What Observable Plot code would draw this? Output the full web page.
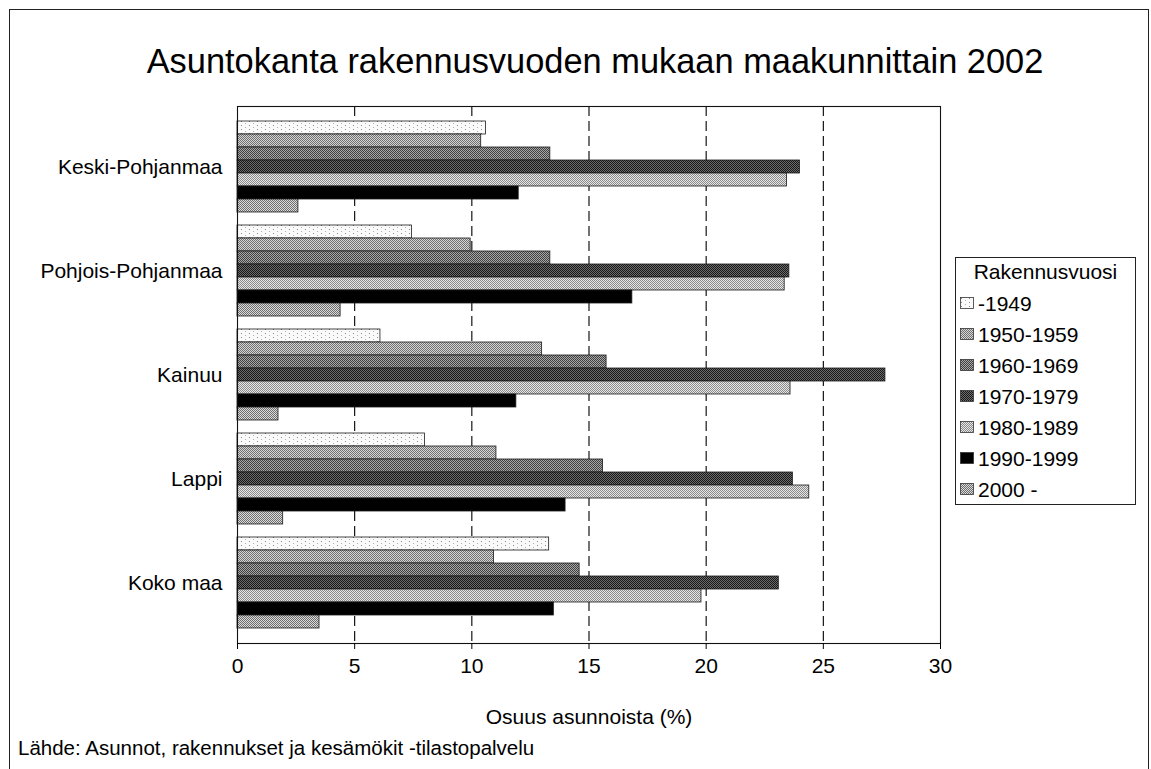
<!DOCTYPE html>
<html>
<head>
<meta charset="utf-8">
<script src="https://cdn.jsdelivr.net/npm/d3@7"></script>
<script src="https://cdn.jsdelivr.net/npm/@observablehq/plot@0.6"></script>
<style>
  html, body { margin: 0; padding: 0; background: #fff; }
  body { font-family: "Liberation Sans", Arial, sans-serif; color: #000; }
  #wrap { position: relative; width: 1151px; height: 769px; overflow: hidden; background: #fff; }
  #border { position: absolute; left: 9px; top: 9px; width: 1140px; height: 780px; border: 1.2px solid #222; box-sizing: border-box; }
  #title { position: absolute; left: 0; top: 41px; width: 1190px; text-align: center; font-size: 34.4px; line-height: 40px; }
  #chart { position: absolute; left: 0; top: 0; }
  #caption { position: absolute; left: 18px; top: 736px; font-size: 20.5px; line-height: 24px; }
  #legend { position: absolute; left: 955px; top: 257px; width: 181px; height: 248px; border: 1px solid #222; box-sizing: border-box; background: #fff; }
  #legend .lt { text-align: center; font-size: 21px; line-height: 24px; margin-top: 2px; margin-bottom: 4px; }
  #legend .it { display: flex; align-items: center; height: 31px; font-size: 21px; padding-left: 4px; }
  #legend .it svg { margin-right: 3px; }
</style>
</head>
<body>
<svg width="0" height="0" style="position:absolute">
  <defs>
    <pattern id="pat0" width="8" height="4" patternUnits="userSpaceOnUse">
      <rect width="8" height="4" fill="#fafafa"/>
      <rect x="1" y="1" width="1" height="1" fill="#8a8a8a"/>
      <rect x="5" y="3" width="1" height="1" fill="#b0b0b0"/>
    </pattern>
    <pattern id="pat1" width="2" height="2" patternUnits="userSpaceOnUse">
      <rect width="2" height="2" fill="#d6d6d6"/>
      <rect width="1" height="1" fill="#707070"/>
      <rect x="1" y="1" width="1" height="1" fill="#707070"/>
    </pattern>
    <pattern id="pat2" width="2" height="2" patternUnits="userSpaceOnUse">
      <rect width="2" height="2" fill="#a8a8a8"/>
      <rect width="1" height="1" fill="#404040"/>
      <rect x="1" y="1" width="1" height="1" fill="#404040"/>
    </pattern>
    <pattern id="pat3" width="2" height="2" patternUnits="userSpaceOnUse">
      <rect width="2" height="2" fill="#6c6c6c"/>
      <rect width="1" height="1" fill="#181818"/>
      <rect x="1" y="1" width="1" height="1" fill="#181818"/>
    </pattern>
    <pattern id="pat4" width="2" height="2" patternUnits="userSpaceOnUse">
      <rect width="2" height="2" fill="#e6e6e6"/>
      <rect width="1" height="1" fill="#8a8a8a"/>
      <rect x="1" y="1" width="1" height="1" fill="#8a8a8a"/>
    </pattern>
    <pattern id="pat5" width="2" height="2" patternUnits="userSpaceOnUse">
      <rect width="2" height="2" fill="#000"/>
    </pattern>
    <pattern id="pat6" width="2" height="2" patternUnits="userSpaceOnUse">
      <rect width="2" height="2" fill="#dadada"/>
      <rect width="1" height="1" fill="#6e6e6e"/>
      <rect x="1" y="1" width="1" height="1" fill="#6e6e6e"/>
    </pattern>
  </defs>
</svg>
<div id="wrap">
  <div id="border"></div>
  <div id="title">Asuntokanta rakennusvuoden mukaan maakunnittain 2002</div>
  <div id="chart"></div>
  <div id="legend"></div>
  <div id="caption">Lähde: Asunnot, rakennukset ja kesämökit -tilastopalvelu</div>
</div>
<script>
// ---- data ----
const regions = ["Keski-Pohjanmaa", "Pohjois-Pohjanmaa", "Kainuu", "Lappi", "Koko maa"];
const periods = ["-1949", "1950-1959", "1960-1969", "1970-1979", "1980-1989", "1990-1999", "2000 -"];
const keskiPohjanmaa   = [10.6, 10.4, 13.35, 24.0, 23.45, 12.0, 2.6];
const pohjoisPohjanmaa = [7.45, 9.95, 13.35, 23.55, 23.35, 16.85, 4.4];
const kainuu           = [6.1, 13.0, 15.75, 27.65, 23.6, 11.9, 1.75];
const lappi            = [8.0, 11.05, 15.6, 23.7, 24.4, 14.0, 1.95];
const kokoMaa          = [13.3, 10.95, 14.6, 23.1, 19.8, 13.5, 3.5];
const xTicks = [0, 5, 10, 15, 20, 25, 30];
const gridValues = [5, 10, 15, 20, 25];
const patterns = periods.map((_, i) => `url(#pat${i})`);

const seriesByRegion = [keskiPohjanmaa, pohjoisPohjanmaa, kainuu, lappi, kokoMaa];
const data = regions.flatMap((r, i) =>
  periods.map((p, j) => ({region: r, period: p, value: seriesByRegion[i][j], key: r + "|" + p}))
);
// band domain: 7 bars per region with a spacer band between regions
const yDomain = regions.flatMap((r, i) => [
  ...periods.map(p => r + "|" + p),
  ...(i < regions.length - 1 ? [r + "|gap"] : [])
]);
const yLabelKeys = regions.map(r => r + "|" + periods[3]);

const chart = Plot.plot({
  width: 1151,
  height: 733,
  marginLeft: 237,
  marginRight: 211,
  marginTop: 106,
  marginBottom: 90,
  style: {fontFamily: '"Liberation Sans", Arial, sans-serif', fontSize: "21px", color: "#000", background: "transparent", overflow: "visible"},
  x: {domain: [0, 30]},
  y: {type: "band", domain: yDomain, paddingInner: 0, paddingOuter: 0.5},
  color: {type: "ordinal", domain: periods, range: patterns},
  marks: [
    Plot.ruleX(gridValues, {stroke: "#000", strokeWidth: 1.1, strokeDasharray: "10,5"}),
    Plot.barX(data, {x: "value", y: "key", fill: "period", stroke: "#1a1a1a", strokeWidth: 0.8, inset: 0}),
    Plot.frame({stroke: "#111", strokeWidth: 1.1}),
    Plot.axisX(xTicks, {tickSize: 6, tickPadding: 9, fontSize: 21, label: "Osuus asunnoista (%)", labelAnchor: "center", labelOffset: 80, labelArrow: "none"}),
    Plot.axisY(yLabelKeys, {tickFormat: d => d.split("|")[0], tickSize: 0, tickPadding: 15, fontSize: 21, label: null})
  ]
});
document.getElementById("chart").appendChild(chart);

// legend
const legend = document.getElementById("legend");
const lt = document.createElement("div");
lt.className = "lt";
lt.textContent = "Rakennusvuosi";
legend.appendChild(lt);
periods.forEach((p, i) => {
  const it = document.createElement("div");
  it.className = "it";
  it.innerHTML = `<svg width="15" height="13"><rect x="0.5" y="0.5" width="13" height="11" fill="${patterns[i]}" stroke="#333" stroke-width="0.8"/></svg><span>${p}</span>`;
  legend.appendChild(it);
});
</script>
</body>
</html>
